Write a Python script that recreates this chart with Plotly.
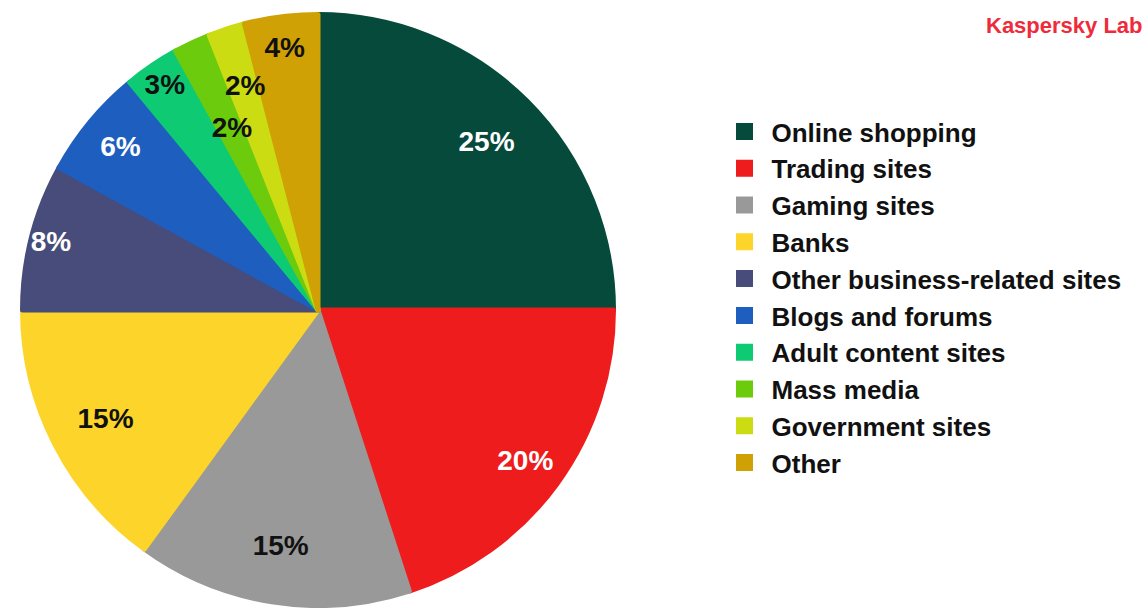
import plotly.graph_objects as go

categories = ["Online shopping", "Trading sites", "Gaming sites", "Banks",
              "Other business-related sites", "Blogs and forums",
              "Adult content sites", "Mass media", "Government sites", "Other"]
values = [25, 20, 15, 15, 8, 6, 3, 2, 2, 4]
colors = ["#064a3c", "#ee1c1c", "#999999", "#fdd52a", "#484c7a",
          "#1d5ebf", "#0ecb73", "#6ccb0c", "#ccdc12", "#cfa104"]
text_colors = ["#ffffff", "#ffffff", "#111111", "#111111", "#ffffff",
               "#ffffff", "#111111", "#111111", "#111111", "#111111"]

W, H = 1148, 608
FONT = "Liberation Sans, Arial, sans-serif"
CX, CY, R = 318, 298, 298  # pie centre (px from left / from bottom), radius


def dom(scale, pad=0.0):
    r = R * scale - pad
    return dict(x=[(CX - r) / W, (CX + r) / W], y=[(CY - r) / H, (CY + r) / H])


fig = go.Figure()
# coloured slices (also feed the legend); stroke of 5 px adds 2.5 px
fig.add_trace(go.Pie(
    labels=categories,
    values=values,
    sort=False,
    direction="clockwise",
    rotation=0,
    marker=dict(colors=colors, line=dict(width=5, color=colors)),
    textinfo="none",
    domain=dom(1.0, pad=2.5),
    hoverinfo="label+percent",
    showlegend=True,
))

# transparent rings carrying the percentage labels
label_groups = [
    # (hole, radius scale, categories labelled)
    (0.6, 1.0, ["Online shopping", "Gaming sites", "Banks",
                "Adult content sites", "Other"]),
    (0.72, 1.0, ["Trading sites", "Blogs and forums"]),
    (0.85, 1.0, ["Other business-related sites"]),
    (0.0, 0.84, ["Government sites"]),
    (0.0, 0.72, ["Mass media"]),
]
for hole, scale, shown in label_groups:
    fig.add_trace(go.Pie(
        labels=categories,
        values=values,
        sort=False,
        direction="clockwise",
        rotation=0,
        hole=hole,
        marker=dict(colors=["rgba(0,0,0,0)"] * len(values),
                    line=dict(width=0)),
        texttemplate=["%{percent:.0%}" if c in shown else "" for c in categories],
        textposition="inside",
        insidetextorientation="horizontal",
        textfont=dict(family=FONT, size=28, color=text_colors, weight="bold"),
        domain=dom(scale),
        hoverinfo="skip",
        showlegend=False,
    ))

fig.update_layout(
    width=W, height=H,
    margin=dict(l=0, r=0, t=0, b=0),
    paper_bgcolor="white",
    plot_bgcolor="white",
    uniformtext=dict(minsize=28, mode="show"),
    legend=dict(
        x=717.5 / W, y=1 - 108 / H, xanchor="left", yanchor="top",
        font=dict(family=FONT, size=26, color="#111111", weight="bold"),
        itemwidth=44,
        bgcolor="rgba(0,0,0,0)",
    ),
    showlegend=True,
    annotations=[dict(
        text="Kaspersky Lab", xref="paper", yref="paper",
        x=1145 / W, y=1 - 26 / H, xanchor="right", yanchor="middle",
        showarrow=False,
        font=dict(family=FONT, size=22, color="#ee2b3b", weight="bold"),
    )],
)

fig.write_html("out.html")
